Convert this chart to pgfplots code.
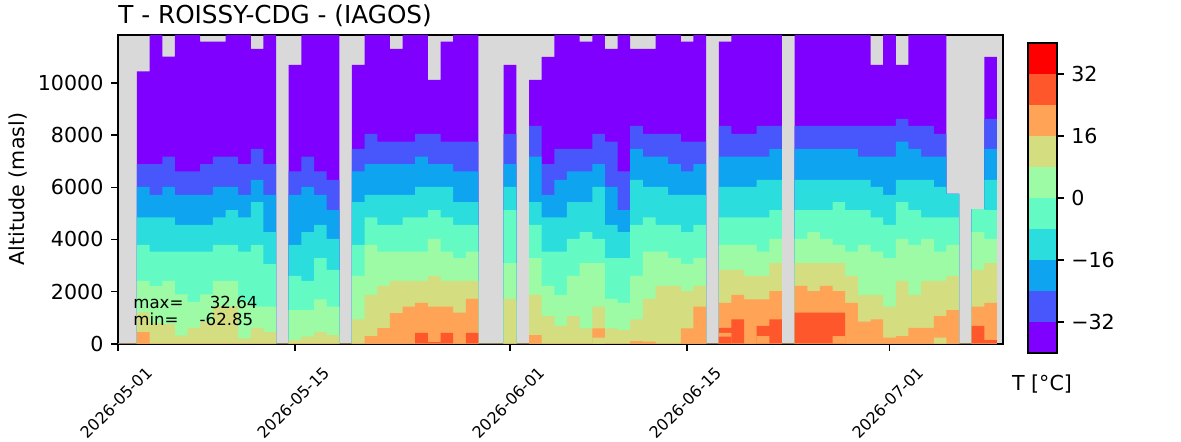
\documentclass[border=0pt]{standalone}
\usepackage{pgfplots}
\pgfplotsset{compat=1.18}
\usepackage{pgfplotstable}
\usepackage{fontspec}
\setmainfont{DejaVu Sans}
\definecolor{bggrey}{RGB}{217,217,217}
\definecolor{c0}{RGB}{128,0,255}
\definecolor{c1}{RGB}{71,87,251}
\definecolor{c2}{RGB}{14,164,240}
\definecolor{c3}{RGB}{43,221,221}
\definecolor{c4}{RGB}{99,251,195}
\definecolor{c5}{RGB}{156,251,164}
\definecolor{c6}{RGB}{212,221,128}
\definecolor{c7}{RGB}{255,164,87}
\definecolor{c8}{RGB}{255,87,44}
\definecolor{c9}{RGB}{255,0,0}
% d = left edge of the day cell (days since 2026-05-01, cell centred on the day)
% top = top of data; b0..b7 = lower edge (m) of colour levels c0..c7; e1..e3 = extra low patches
\pgfplotstableread{
d top b0 b1 b2 b3 b4 b5 b6 b7 e1 e2 e3
-0.5 0 0 0 0 0 0 0 0 0 0 0 0
0.5 0 0 0 0 0 0 0 0 0 0 0 0
1.5 10450 6890 6020 4850 3790 2410 1200 440 0 0 0 0
2.5 11850 6890 5710 4850 3530 2210 800 0 0 0 0 0
3.5 11020 7180 6020 4850 3530 2410 750 0 0 0 0 0
4.5 11850 6610 5710 4560 3530 1890 310 0 0 0 0 0
5.5 11850 6610 5710 4560 3530 1610 610 0 0 0 0 0
6.5 11600 6890 5710 4560 3530 1890 850 0 0 0 0 0
7.5 11600 7180 6020 4850 3790 2410 1420 0 0 0 0 0
8.5 11850 7180 6020 5130 3790 2410 1420 0 0 0 0 0
9.5 11850 6890 5710 4850 3530 1610 200 0 0 0 0 0
10.5 11320 7480 6290 5430 3790 1420 610 0 0 0 0 0
11.5 11850 6890 5710 4280 3050 1420 440 0 0 0 0 0
12.5 0 0 0 0 0 0 0 0 0 0 0 0
13.5 10700 6610 5710 3790 2600 1290 140 0 0 0 0 0
14.5 11850 7180 6020 4280 2410 1290 270 0 0 0 0 0
15.5 11850 6610 5710 4560 3280 1700 440 0 0 0 0 0
16.5 11850 6290 5130 4020 2830 1420 330 0 0 0 0 0
17.5 0 0 0 0 0 0 0 0 0 0 0 0
18.5 10700 7480 6610 5430 3790 2600 930 0 0 0 0 0
19.5 11850 8050 6890 5710 4850 3790 1870 290 0 0 0 0
20.5 11850 7760 6890 5710 4560 3530 2220 600 0 0 0 0
21.5 11320 7760 6890 5710 4560 3530 2410 1170 0 0 0 0
22.5 11850 7760 6890 5710 4850 3530 2410 1420 0 0 0 0
23.5 11850 8050 7180 6020 4850 3530 2410 1570 420 0 0 0
24.5 10130 8050 6890 6020 5130 4020 2600 1420 60 0 0 0
25.5 11600 7760 6890 6020 4850 3530 2410 1420 420 0 0 0
26.5 11850 7760 6610 5430 4560 3280 2410 1190 0 0 0 0
27.5 11850 7760 6610 5430 4560 3530 2410 1720 420 0 0 0
28.5 0 0 0 0 0 0 0 0 0 0 0 0
29.5 0 0 0 0 0 0 0 0 0 0 0 0
30.5 10700 8050 6890 6020 5130 3090 1720 0 0 0 0 0
31.5 0 0 0 0 0 0 0 0 0 0 0 0
32.5 10130 8360 7180 5430 4560 3280 1870 330 0 0 0 0
33.5 11010 6890 5710 4850 3530 2220 1060 0 0 0 0 0
34.5 11850 7480 6290 4850 3530 1870 680 0 0 0 0 0
35.5 11850 7480 6610 5430 4020 2600 1060 0 0 0 0 0
36.5 11600 7480 6610 5430 4280 3090 590 0 0 0 0 0
37.5 11850 8050 6890 6020 4020 3090 1420 590 0 0 0 230
38.5 11320 7760 6020 4560 3280 1720 590 0 0 0 0 0
39.5 11850 6610 5130 4280 3280 1570 520 0 0 0 0 0
40.5 11320 8360 7480 6290 4560 2600 930 100 0 0 0 0
41.5 11320 8050 7180 6020 4850 3530 1720 80 0 0 0 0
42.5 11850 8050 7180 6020 4560 3530 2220 0 0 0 0 0
43.5 11850 8050 6890 5710 4560 3280 2220 0 0 0 0 0
44.5 11600 7760 6610 5710 4280 3060 2020 590 0 0 0 0
45.5 11850 7760 6890 5710 4560 3280 2220 1420 0 0 0 0
46.5 0 0 0 0 0 0 0 0 0 0 0 0
47.5 11600 8360 7180 6020 4850 3790 2830 1570 610 420 270 0
48.5 11850 8050 7180 6020 4850 3790 2830 1870 930 0 0 0
49.5 11850 8050 7180 6020 4850 3790 2600 1700 0 0 0 0
50.5 11850 8360 7180 6290 4850 3530 2600 1700 680 290 0 0
51.5 11850 8360 7480 6290 5130 4020 3090 2020 930 0 0 0
52.5 0 0 0 0 0 0 0 0 0 0 0 0
53.5 11850 8360 7480 6290 5130 4020 3090 2220 1190 0 0 0
54.5 11850 8360 7480 6290 5130 4280 3090 2020 1190 0 0 0
55.5 11850 8360 7480 6290 5130 4020 3090 2220 1190 0 0 0
56.5 11850 8360 7480 6290 5430 3790 3090 2020 1190 290 0 0
57.5 11850 8360 7480 6290 5130 3530 2600 1570 0 0 0 0
58.5 11850 8360 7180 6290 5130 3790 1870 850 0 0 0 0
59.5 10700 8360 7180 6020 4850 3530 1870 930 0 0 0 0
60.5 11850 8360 7180 5710 4560 3280 1420 230 0 0 0 0
61.5 10700 8630 7760 6290 5430 4020 2410 290 0 0 0 0
62.5 11850 8360 7480 6290 5130 3790 1870 610 0 0 0 0
63.5 11850 8360 7180 6290 4850 4020 2410 610 0 0 0 0
64.5 11850 8050 7180 6020 4850 3530 2410 1060 0 0 0 230
65.5 5750 5750 5750 5750 4850 3790 2600 1290 0 0 0 0
66.5 0 0 0 0 0 0 0 0 0 0 0 0
67.5 5170 5170 5170 5170 5170 4280 2830 1420 680 0 0 0
68.5 11010 8630 7480 6290 5130 4020 3090 1570 140 0 0 0
69.5 0 0 0 0 0 0 0 0 0 0 0 0
}\profiles
\newcommand{\basefont}{\fontsize{10.3pt}{12.4pt}\selectfont}
\begin{document}
\begin{tikzpicture}[x=0.5pt,y=0.5pt]
\path[use as bounding box] (0,0) rectangle (1181,442);
\begin{axis}[
  at={(59pt,49.15pt)}, anchor=south west,
  scale only axis, width=442.65pt, height=154.35pt,
  xmin=0, xmax=70, ymin=0, ymax=11850,
  scaled x ticks=false, scaled y ticks=false,
  axis background/.style={fill=bggrey},
  axis line style={line width=0.82pt, black},
  tick style={line width=0.82pt, black},
  major tick length=3.5pt,
  tick align=outside, tick pos=left,
  xtick={0,14,31,45,61},
  xticklabels={2026-05-01,2026-05-15,2026-06-01,2026-06-15,2026-07-01},
  xticklabel style={font=\fontsize{8pt}{9.6pt}\selectfont, yshift=-26pt, xshift=-0.8pt, rotate=45, anchor=center},
  ytick={0,2000,4000,6000,8000,10000},
  yticklabels={0,2000,4000,6000,8000,10000},
  yticklabel style={font=\basefont, inner sep=0pt, xshift=-3.6pt},
  const plot mark left,
]
\addplot[fill=c0, draw=none] table[x=d, y=top] {\profiles} \closedcycle;
\addplot[fill=c1, draw=none] table[x=d, y=b0] {\profiles} \closedcycle;
\addplot[fill=c2, draw=none] table[x=d, y=b1] {\profiles} \closedcycle;
\addplot[fill=c3, draw=none] table[x=d, y=b2] {\profiles} \closedcycle;
\addplot[fill=c4, draw=none] table[x=d, y=b3] {\profiles} \closedcycle;
\addplot[fill=c5, draw=none] table[x=d, y=b4] {\profiles} \closedcycle;
\addplot[fill=c6, draw=none] table[x=d, y=b5] {\profiles} \closedcycle;
\addplot[fill=c7, draw=none] table[x=d, y=b6] {\profiles} \closedcycle;
\addplot[fill=c8, draw=none] table[x=d, y=b7] {\profiles} \closedcycle;
\addplot[fill=c7, draw=none] table[x=d, y=e1] {\profiles} \closedcycle;
\addplot[fill=c8, draw=none] table[x=d, y=e2] {\profiles} \closedcycle;
\addplot[fill=c6, draw=none] table[x=d, y=e3] {\profiles} \closedcycle;
\end{axis}
\begin{axis}[
  at={(514pt,44.65pt)}, anchor=south west,
  scale only axis, width=14.35pt, height=155pt,
  xmin=0, xmax=1, ymin=-40, ymax=40,
  axis line style={line width=0.82pt, black},
  tick style={line width=0.82pt, black},
  major tick length=3.5pt,
  tick align=outside,
  xtick=\empty,
  ytick={-32,-16,0,16,32},
  yticklabels={−32,−16,0,16,32},
  ytick pos=right, yticklabel pos=right,
  yticklabel style={font=\basefont, inner sep=0pt, xshift=3.6pt},
  axis on top,
]
\addplot[fill=c0, draw=none] coordinates {(0,-40) (1,-40) (1,-32) (0,-32)} -- cycle;
\addplot[fill=c1, draw=none] coordinates {(0,-32) (1,-32) (1,-24) (0,-24)} -- cycle;
\addplot[fill=c2, draw=none] coordinates {(0,-24) (1,-24) (1,-16) (0,-16)} -- cycle;
\addplot[fill=c3, draw=none] coordinates {(0,-16) (1,-16) (1,-8) (0,-8)} -- cycle;
\addplot[fill=c4, draw=none] coordinates {(0,-8) (1,-8) (1,0) (0,0)} -- cycle;
\addplot[fill=c5, draw=none] coordinates {(0,0) (1,0) (1,8) (0,8)} -- cycle;
\addplot[fill=c6, draw=none] coordinates {(0,8) (1,8) (1,16) (0,16)} -- cycle;
\addplot[fill=c7, draw=none] coordinates {(0,16) (1,16) (1,24) (0,24)} -- cycle;
\addplot[fill=c8, draw=none] coordinates {(0,24) (1,24) (1,32) (0,32)} -- cycle;
\addplot[fill=c9, draw=none] coordinates {(0,32) (1,32) (1,40) (0,40)} -- cycle;
\end{axis}
\node[anchor=base west, inner sep=0pt, font=\fontsize{12.35pt}{14pt}\selectfont] at (118,418) {T - ROISSY-CDG - (IAGOS)};
\node[rotate=90, inner sep=0pt, font=\basefont] at (18,253) {Altitude (masl)};
\node[inner sep=0pt, font=\basefont] at (1042,58) {T [°C]};
\node[anchor=base west, inner sep=0pt, font=\fontsize{8.3pt}{10pt}\selectfont] at (133,133) {max=\ \ \ \ \ 32.64};
\node[anchor=base west, inner sep=0pt, font=\fontsize{8.3pt}{10pt}\selectfont] at (133,116.3) {min=\ \ \ \ -62.85};
\end{tikzpicture}
\end{document}
